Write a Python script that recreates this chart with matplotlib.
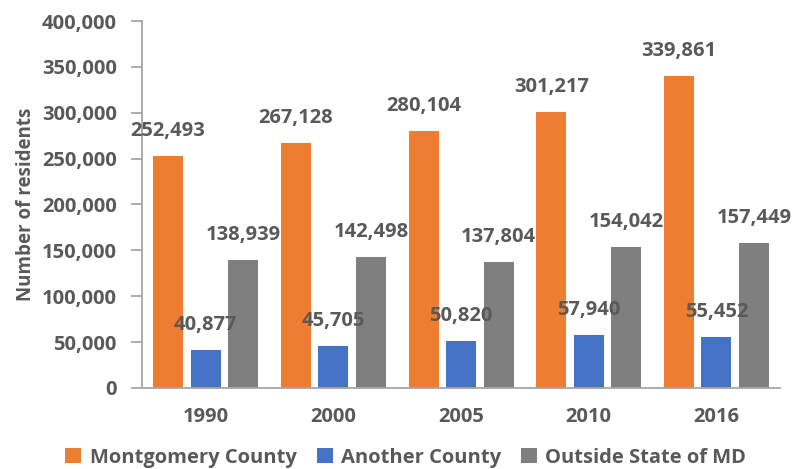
import matplotlib.pyplot as plt
import numpy as np
from matplotlib.ticker import FuncFormatter
from matplotlib.patches import Patch

plt.rcParams['font.family'] = ['Open Sans', 'DejaVu Sans']
plt.rcParams['font.weight'] = 'bold'

years = ['1990', '2000', '2005', '2010', '2016']
series_names = ['Montgomery County', 'Another County', 'Outside State of MD']
montgomery = [252493, 267128, 280104, 301217, 339861]
another = [40877, 45705, 50820, 57940, 55452]
outside = [138939, 142498, 137804, 154042, 157449]
colors = ['#ED7D31', '#4472C4', '#7F7F7F']
text_col = '#595959'

fig = plt.figure(figsize=(7.97, 4.69), dpi=100)
ax = fig.add_axes([0.178, 0.173, 0.801, 0.782])

x = np.arange(len(years))
width = 0.235
step = 0.294
for i, (vals, c) in enumerate(zip([montgomery, another, outside], colors)):
    pos = x + (i - 1) * step
    ax.bar(pos, vals, width=width, color=c, zorder=2)
    for px, v in zip(pos, vals):
        ax.annotate(f'{v:,}', (px, v), xytext=(0, 18), textcoords='offset points',
                    ha='center', va='center', fontsize=14.5, fontweight='bold', color=text_col)

ax.set_xlim(-0.5, len(years) - 0.5)
ax.set_ylim(0, 400000)
ax.set_yticks(range(0, 400001, 50000))
ax.yaxis.set_major_formatter(FuncFormatter(lambda v, p: f'{int(v):,}'))
ax.set_xticks(x)
ax.set_xticklabels(years)

for s in ['top', 'right']:
    ax.spines[s].set_visible(False)
for s in ['left', 'bottom']:
    ax.spines[s].set_color('#A6A6A6')
    ax.spines[s].set_linewidth(1.3)
ax.tick_params(axis='y', colors='#A6A6A6', length=8, width=1.3, labelcolor=text_col,
               labelsize=14.5, pad=10)
ax.tick_params(axis='x', length=0, labelcolor=text_col, labelsize=14.5, pad=14)
for lab in ax.get_xticklabels() + ax.get_yticklabels():
    lab.set_fontweight('bold')

ax.set_ylabel('Number of residents', fontsize=13.5, fontweight='bold', color=text_col, labelpad=4)

handles = [Patch(facecolor=c, label=n) for c, n in zip(colors, series_names)]
leg = fig.legend(handles=handles, loc='center', bbox_to_anchor=(0.509, 0.024), ncol=3,
                 frameon=False, fontsize=14.5, handlelength=0.8, handleheight=0.8,
                 handletextpad=0.4, columnspacing=1.0)
for t in leg.get_texts():
    t.set_color(text_col)
    t.set_fontweight('bold')

fig.savefig('out.png', dpi=100)
